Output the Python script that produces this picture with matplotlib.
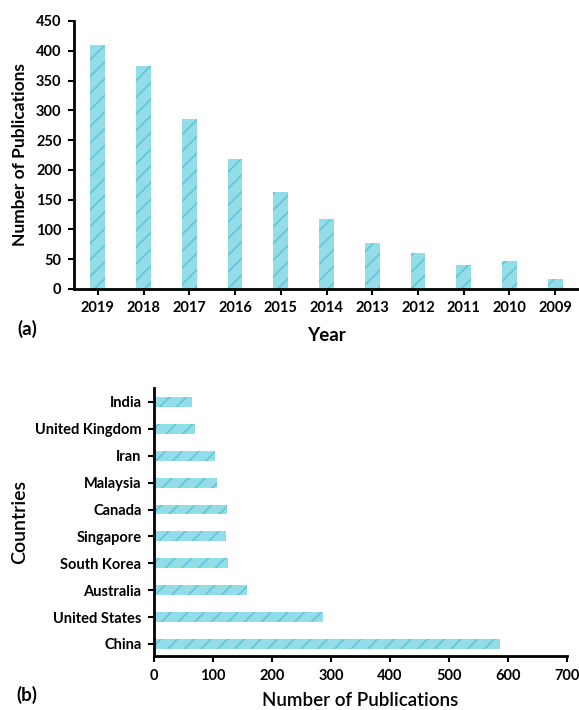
import matplotlib.pyplot as plt
import numpy as np

# Publications per year
years = ["2019", "2018", "2017", "2016", "2015", "2014", "2013", "2012", "2011", "2010", "2009"]
year_counts = [409, 375, 286, 218, 163, 117, 78, 61, 41, 47, 16]

# Publications per country (bottom to top)
countries = ["China", "United States", "Australia", "South Korea", "Singapore",
             "Canada", "Malaysia", "Iran", "United Kingdom", "India"]
country_counts = [587, 286, 157, 125, 122, 123, 106, 103, 69, 64]

plt.rcParams["font.family"] = ["Lato", "DejaVu Sans"]
plt.rcParams["hatch.linewidth"] = 1.2

BAR_FACE = "#93dde9"
BAR_HATCH = "#62c6d8"

fig = plt.figure(figsize=(5.79, 7.10), dpi=100)

# (a) publications by year
ax1 = fig.add_axes([74 / 579, 1 - 289 / 710, 1 - 74 / 579, (289 - 21) / 710])
x = np.arange(len(years))
ax1.bar(x, year_counts, width=0.32, color=BAR_FACE, edgecolor=BAR_HATCH,
        linewidth=0, hatch="//")
ax1.set_xlim(-0.52, 10.52)
ax1.set_ylim(0, 450)
ax1.set_yticks(range(0, 451, 50))
ax1.set_xticks(x)
ax1.set_xticklabels(years)
ax1.set_ylabel("Number of Publications", fontsize=12.5, fontweight="bold", labelpad=6)
ax1.set_xlabel("Year", fontsize=13.5, fontweight="bold", labelpad=8)
fig.text(17 / 579, 1 - 329 / 710, "(a)", fontsize=13.5, fontweight="bold",
         ha="left", va="center")

# (b) publications by country
ax2 = fig.add_axes([154 / 579, 1 - 656 / 710, (567 - 154) / 579, (656 - 388) / 710])
y = np.arange(len(countries))
ax2.barh(y, country_counts, height=0.37, color=BAR_FACE, edgecolor=BAR_HATCH,
         linewidth=0, hatch="//")
ax2.set_xlim(0, 700)
ax2.set_ylim(-0.45, 9.52)
ax2.set_xticks(range(0, 701, 100))
ax2.set_yticks(y)
ax2.set_yticklabels(countries)
ax2.set_xlabel("Number of Publications", fontsize=13.5, fontweight="semibold", labelpad=7)
ax2.set_ylabel("Countries", fontsize=14, fontweight="semibold", labelpad=5)
fig.text(16 / 579, 1 - 695 / 710, "(b)", fontsize=13.5, fontweight="bold",
         ha="left", va="center")

for ax in (ax1, ax2):
    for side in ("top", "right"):
        ax.spines[side].set_visible(False)
    for side in ("left", "bottom"):
        ax.spines[side].set_linewidth(2)
    ax.tick_params(direction="out", length=4, width=1.5, labelsize=10.5, pad=5)
    for lbl in ax.get_xticklabels() + ax.get_yticklabels():
        lbl.set_fontweight("bold")

fig.savefig("out.png", dpi=100)
